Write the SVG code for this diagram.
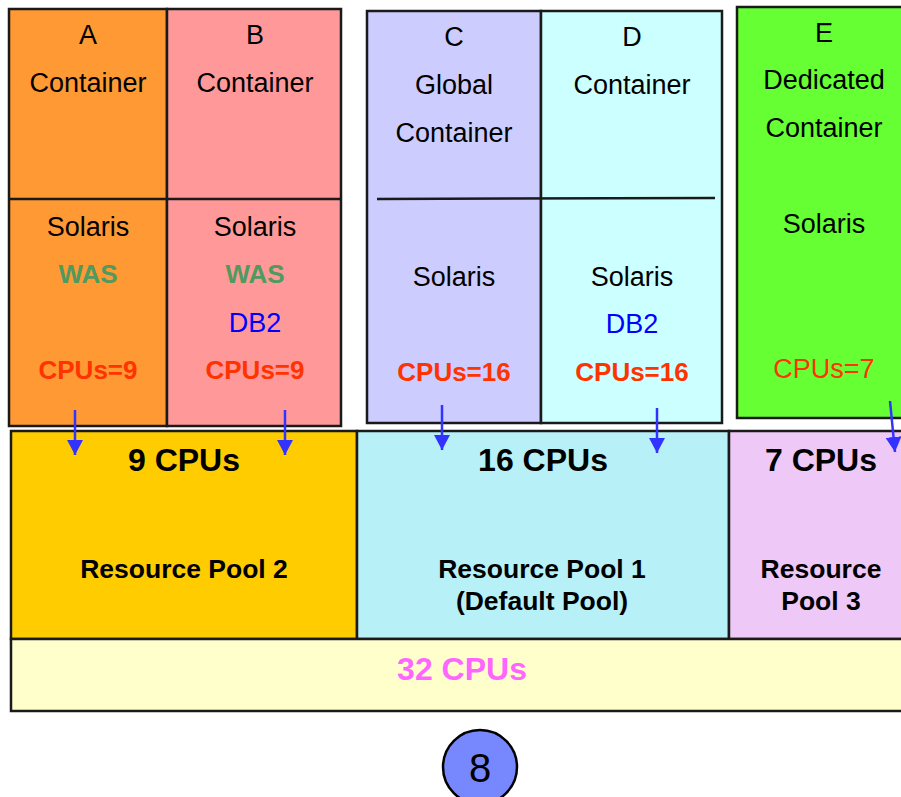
<svg xmlns="http://www.w3.org/2000/svg" width="901" height="797" viewBox="0 0 901 797">
<defs>
<style>
.bx{stroke:#1a1a1a;stroke-width:2.5}
.ln{stroke:#1a1a1a;stroke-width:2.5;fill:none}
text{font-family:"Liberation Sans",Arial,sans-serif;text-anchor:middle}
.t{font-size:27px;fill:#000}
.was{font-size:26px;font-weight:bold;fill:#4E9A5F}
.db{font-size:27px;fill:#0000FF}
.cpu{font-size:26px;font-weight:bold;fill:#FF3300}
.big{font-size:32px;font-weight:bold;fill:#000}
.pool{font-size:26.5px;font-weight:bold;fill:#000}
.arr{stroke:#3333FF;stroke-width:2.5;fill:none;marker-end:url(#ah)}
</style>
<marker id="ah" markerWidth="15" markerHeight="16" refX="15" refY="8" orient="auto" markerUnits="userSpaceOnUse" viewBox="0 0 15 16">
<path d="M0,0 L15,8 L0,16 Z" fill="#3333FF"/>
</marker>
</defs>
<rect width="901" height="797" fill="#fff"/>

<g id="containerA">
<rect x="9" y="9" width="158" height="417" fill="#FF9933" class="bx"/>
<text x="88" y="44" class="t">A</text>
<text x="88" y="92" class="t">Container</text>
<text x="88" y="236" class="t">Solaris</text>
<text x="88" y="283" class="was">WAS</text>
<text x="88" y="379" class="cpu">CPUs=9</text>
</g>
<g id="containerB">
<rect x="167" y="9" width="174" height="417" fill="#FF9999" class="bx"/>
<text x="255" y="44" class="t">B</text>
<text x="255" y="92" class="t">Container</text>
<text x="255" y="236" class="t">Solaris</text>
<text x="255" y="283" class="was">WAS</text>
<text x="255" y="332" class="db">DB2</text>
<text x="255" y="379" class="cpu">CPUs=9</text>
</g>
<line x1="10" y1="199" x2="341" y2="199" class="ln"/>

<g id="containerC">
<rect x="367" y="11" width="174" height="412" fill="#CCCCFF" class="bx"/>
<text x="454" y="46" class="t">C</text>
<text x="454" y="94" class="t">Global</text>
<text x="454" y="142" class="t">Container</text>
<text x="454" y="286" class="t">Solaris</text>
<text x="454" y="381" class="cpu">CPUs=16</text>
</g>
<g id="containerD">
<rect x="541" y="11" width="181" height="412" fill="#CCFFFF" class="bx"/>
<text x="632" y="46" class="t">D</text>
<text x="632" y="94" class="t">Container</text>
<text x="632" y="286" class="t">Solaris</text>
<text x="632" y="333" class="db">DB2</text>
<text x="632" y="381" class="cpu">CPUs=16</text>
</g>
<line x1="377" y1="199" x2="715" y2="198" class="ln"/>

<g id="containerE">
<rect x="737" y="7" width="175" height="411" fill="#66FF33" class="bx"/>
<text x="824" y="42" class="t">E</text>
<text x="824" y="89" class="t">Dedicated</text>
<text x="824" y="137" class="t">Container</text>
<text x="824" y="233" class="t">Solaris</text>
<text x="824" y="378" class="t" style="fill:#FF3300">CPUs=7</text>
</g>

<g id="pool2">
<rect x="11" y="431" width="346" height="208" fill="#FFCC00" class="bx"/>
<text x="184" y="471" class="big">9 CPUs</text>
<text x="184" y="578" class="pool">Resource Pool 2</text>
</g>
<g id="pool1">
<rect x="357" y="431" width="372" height="208" fill="#B8F0F8" class="bx"/>
<text x="543" y="471" class="big">16 CPUs</text>
<text x="542" y="578" class="pool">Resource Pool 1</text>
<text x="542" y="610" class="pool">(Default Pool)</text>
</g>
<g id="pool3">
<rect x="729" y="431" width="180" height="208" fill="#EEC8F6" class="bx"/>
<text x="821" y="471" class="big">7 CPUs</text>
<text x="821" y="578" class="pool">Resource</text>
<text x="821" y="610" class="pool">Pool 3</text>
</g>
<g id="total">
<rect x="11" y="639" width="898" height="72" fill="#FFFFCC" class="bx"/>
<text x="462" y="680" class="big" style="fill:#FF66FF">32 CPUs</text>
</g>

<g id="badge">
<circle cx="480" cy="767" r="37" fill="#7788FF" stroke="#000" stroke-width="2.5"/>
<text x="480" y="782" style="font-size:40px;fill:#000">8</text>
</g>

<g id="connectors">
<line x1="75" y1="410" x2="75" y2="455" class="arr"/>
<line x1="285" y1="410" x2="285" y2="455" class="arr"/>
<line x1="442" y1="405" x2="442" y2="450" class="arr"/>
<line x1="657" y1="408" x2="657" y2="453" class="arr"/>
<line x1="890" y1="401" x2="895" y2="452" class="arr"/>
</g>
</svg>
